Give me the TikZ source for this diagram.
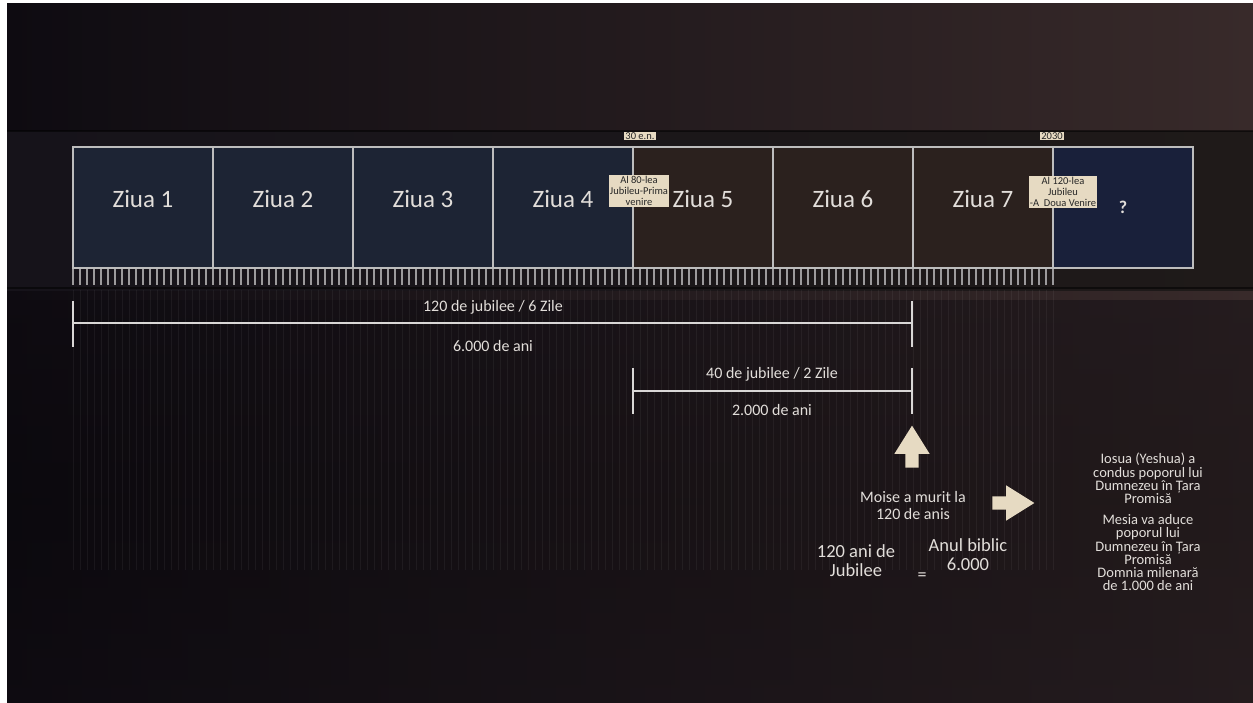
\documentclass[tikz,border=0pt]{standalone}
\usepackage{fontspec}
\setmainfont{Carlito}
\usetikzlibrary{positioning,shapes.arrows,calc}
\definecolor{bgl}{HTML}{0E0B11}
\definecolor{bgr}{HTML}{382A2A}
\definecolor{band}{HTML}{16131A}
\definecolor{bandr}{HTML}{1F1A19}
\definecolor{navy}{HTML}{1D2434}
\definecolor{brown}{HTML}{2B211E}
\definecolor{deep}{HTML}{19203A}
\definecolor{frame}{HTML}{BDBDBD}
\definecolor{tick}{HTML}{9C9A9C}
\definecolor{bar}{HTML}{D9D7D6}
\definecolor{text}{HTML}{E2DEDA}
\definecolor{beige}{HTML}{E6DAC2}

\begin{document}
\begin{tikzpicture}[x=1pt,y=-1pt,
  day/.style={draw=frame,line width=1.6pt,minimum width=140pt,minimum height=121pt,outer sep=0pt,inner sep=0pt},
  daytxt/.style={text=text,font=\fontsize{25}{25}\selectfont},
  tag/.style={fill=beige,text=black!85,inner sep=1pt,align=center,font=\fontsize{10.5}{11}\selectfont},
  span/.style={bar,line width=1.8pt},
  note/.style={text=text,align=center},
  blockarr/.style={single arrow,fill=beige,minimum height=42pt,inner sep=6.5pt,single arrow head extend=11pt,single arrow tip angle=64,outer sep=0pt}]
  \useasboundingbox (0,0) rectangle (1253,702);
  \fill[white] (0,0) rectangle (1253,702);
  \shade[left color=bgl,right color=bgr] (7,3) rectangle (1253,702);
  \shade[top color=bgl,bottom color=bgl,middle color=bgl!60!black,opacity=.45] (7,300) rectangle (1253,702);
  % band behind the days
  \shade[left color=band,right color=bandr] (7,131) rectangle (1253,290);
  \draw[black,opacity=.5,line width=1.5pt] (7,131) -- (1253,131) (7,288) -- (1253,288);
  % faint jubilee stripes
  \foreach \i in {0,...,140}
    \draw[white,opacity=.05,line width=1pt] (73+7*\i,290) -- (73+7*\i,570);
  % day boxes
  \node[day,fill=navy] (d1) at (143,207.5) {};
  \node[day,fill=navy,right=0pt of d1] (d2) {};
  \node[day,fill=navy,right=0pt of d2] (d3) {};
  \node[day,fill=navy,right=0pt of d3] (d4) {};
  \node[day,fill=brown,right=0pt of d4] (d5) {};
  \node[day,fill=brown,right=0pt of d5] (d6) {};
  \node[day,fill=brown,right=0pt of d6] (d7) {};
  \node[day,fill=deep,right=0pt of d7] (d8) {};
  \foreach \n in {1,...,7}
    \node[daytxt] (t\n) at ($(d\n.center)+(0,-9)$) {Ziua \n};
  \node[text=text,font=\bfseries\fontsize{18}{18}\selectfont] (q) at ($(d8.center)+(0,0)$) {?};
  % jubilee ruler
  \foreach \i in {0,...,140}
    \draw[tick,line width=1.3pt] (73+7*\i,269) -- (73+7*\i,285);
  % markers
  \node[tag] (en) at (640,136) {30 e.n.};
  \node[tag] (yr) at (1052,136) {2030};
  \node[tag] (j80) at (639,191) {Al 80-lea\\Jubileu-Prima\\venire};
  \node[tag] (j120) at (1063,192) {Al 120-lea\\Jubileu\\-A\ \ Doua Venire};
  % spans
  \coordinate (s6l) at (73,323);
  \coordinate (s6r) at (912,323);
  \coordinate (s2l) at (633,391);
  \coordinate (s2r) at (912,391);
  \draw[span] (s6l) -- (s6r);
  \draw[span] ($(s6l)+(0,-22)$) -- ($(s6l)+(0,24)$);
  \draw[span] ($(s6r)+(0,-22)$) -- ($(s6r)+(0,24)$);
  \draw[span] (s2l) -- (s2r);
  \draw[span] ($(s2l)+(0,-23)$) -- ($(s2l)+(0,23)$);
  \draw[span] ($(s2r)+(0,-23)$) -- ($(s2r)+(0,23)$);
  \node[note,font=\fontsize{16}{16}\selectfont] (l6a) at (493,307) {120 de jubilee / 6 Zile};
  \node[note,font=\fontsize{16}{16}\selectfont] (l6b) at (493,346) {6.000 de ani};
  \node[note,font=\fontsize{16}{16}\selectfont] (l2a) at (772,374) {40 de jubilee / 2 Zile};
  \node[note,font=\fontsize{16}{16}\selectfont] (l2b) at (772,410) {2.000 de ani};
  % arrows and notes
  \node[blockarr,shape border rotate=90] (up) at (912,452) {};
  \node[note,font=\fontsize{16}{17}\selectfont] (moise) at (913,505) {Moise a murit la\\120 de anis};
  \node[blockarr] (rt) at (1008,503) {};
  \node[note,font=\fontsize{18.5}{19}\selectfont] (jub) at (856,561) {120 ani de\\Jubilee};
  \node[note,font=\fontsize{18}{18}\selectfont] (eq) at (922,577) {=};
  \node[note,font=\fontsize{18.5}{19}\selectfont] (an) at (968,555) {Anul biblic\\6.000};
  \node[note,font=\fontsize{14.5}{13.2}\selectfont] (ios) at (1148,522)
    {Iosua (Yeshua) a\\condus poporul lui\\Dumnezeu în Țara\\Promisă\\[8pt]Mesia va aduce\\poporul lui\\Dumnezeu în Țara\\Promisă\\Domnia milenară\\de 1.000 de ani};
\end{tikzpicture}
\end{document}
